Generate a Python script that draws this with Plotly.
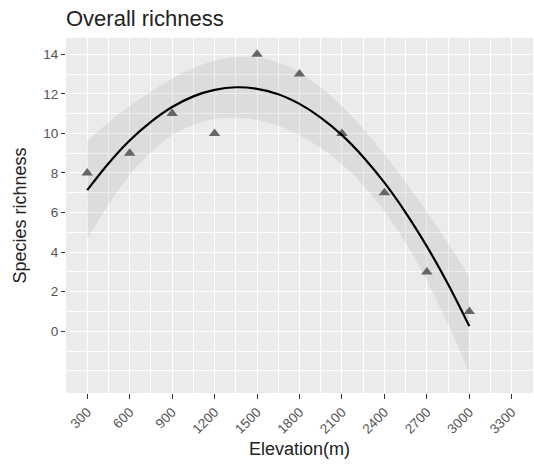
import plotly.graph_objects as go

# observed data
elevation = [300, 600, 900, 1200, 1500, 1800, 2100, 2400, 2700, 3000]
richness = [8, 9, 11, 10, 14, 13, 10, 7, 3, 1]

# fitted curve and confidence band
fit_x = [300, 450, 600, 750, 900, 1050, 1200, 1350, 1500, 1650, 1800, 1950,
         2100, 2250, 2400, 2550, 2700, 2850, 3000]
fit_y = [7.13, 8.48, 9.64, 10.58, 11.33, 11.87, 12.20, 12.33, 12.25, 11.98,
         11.49, 10.80, 9.91, 8.81, 7.51, 6.00, 4.29, 2.38, 0.26]
fit_upper = [9.60, 10.55, 11.38, 12.10, 12.76, 13.30, 13.67, 13.86, 13.83, 13.58,
             13.07, 12.33, 11.38, 10.24, 8.94, 7.53, 6.05, 4.45, 2.75]
fit_lower = [4.65, 6.40, 7.90, 9.05, 9.90, 10.44, 10.73, 10.80, 10.67, 10.38,
             9.91, 9.27, 8.44, 7.38, 6.08, 4.47, 2.55, 0.35, -2.15]

x_ticks = [300, 600, 900, 1200, 1500, 1800, 2100, 2400, 2700, 3000, 3300]
y_ticks = [0, 2, 4, 6, 8, 10, 12, 14]
x_minor = [150, 450, 750, 1050, 1350, 1650, 1950, 2250, 2550, 2850, 3150, 3450]
y_minor = [-2, -1, 1, 3, 5, 7, 9, 11, 13]

fig = go.Figure()

fig.add_trace(go.Scatter(
    x=fit_x, y=fit_upper, mode="lines", line=dict(width=0, shape="spline"),
    hoverinfo="skip", showlegend=False))
fig.add_trace(go.Scatter(
    x=fit_x, y=fit_lower, mode="lines", line=dict(width=0, shape="spline"),
    fill="tonexty", fillcolor="rgba(153,153,153,0.18)",
    hoverinfo="skip", showlegend=False))

fig.add_trace(go.Scatter(
    x=elevation, y=richness, mode="markers",
    marker=dict(symbol="triangle-up", size=10, color="#656565"),
    showlegend=False))

fig.add_trace(go.Scatter(
    x=fit_x, y=fit_y, mode="lines",
    line=dict(color="black", width=2.2, shape="spline"),
    showlegend=False))

font_family = "Liberation Sans, Arial, sans-serif"

fig.update_layout(
    width=534, height=464,
    margin=dict(l=66, r=1, t=38, b=71, autoexpand=False),
    paper_bgcolor="white",
    plot_bgcolor="#ebebeb",
    font=dict(family=font_family, color="#222"),
    title=dict(text="Overall richness", x=66/534, xanchor="left",
               y=1 - 18/464, yanchor="middle",
               font=dict(size=22, color="#222", family=font_family)),
    showlegend=False,
)

fig.update_xaxes(
    range=[150, 3450], automargin=False,
    tickmode="array", tickvals=x_ticks, ticktext=[str(v) for v in x_ticks],
    tickangle=-45,
    tickfont=dict(size=13.5, color="#555555"),
    ticks="outside", ticklen=5, tickwidth=1.2, tickcolor="#333",
    showgrid=True, gridcolor="white", gridwidth=1.4,
    minor=dict(tickvals=x_minor, showgrid=True, gridcolor="white",
               gridwidth=0.7, ticks=""),
    zeroline=False, showline=False,
    title=dict(text="Elevation(m)", font=dict(size=18, color="#222"), standoff=6),
)

fig.update_yaxes(
    range=[-3.12, 14.82], automargin=False,
    tickmode="array", tickvals=y_ticks, ticktext=[str(v) for v in y_ticks],
    tickfont=dict(size=13.5, color="#555555"),
    ticks="outside", ticklen=4, tickwidth=1.2, tickcolor="#333",
    showgrid=True, gridcolor="white", gridwidth=1.4,
    minor=dict(tickvals=y_minor, showgrid=True, gridcolor="white",
               gridwidth=0.7, ticks=""),
    zeroline=False, showline=False,
    title=dict(text="Species richness", font=dict(size=18, color="#222"), standoff=11),
)

fig.write_html(
    "out.html",
    config={"displayModeBar": False},
    post_script="document.body.style.margin='0';document.body.style.overflow='hidden';",
)
